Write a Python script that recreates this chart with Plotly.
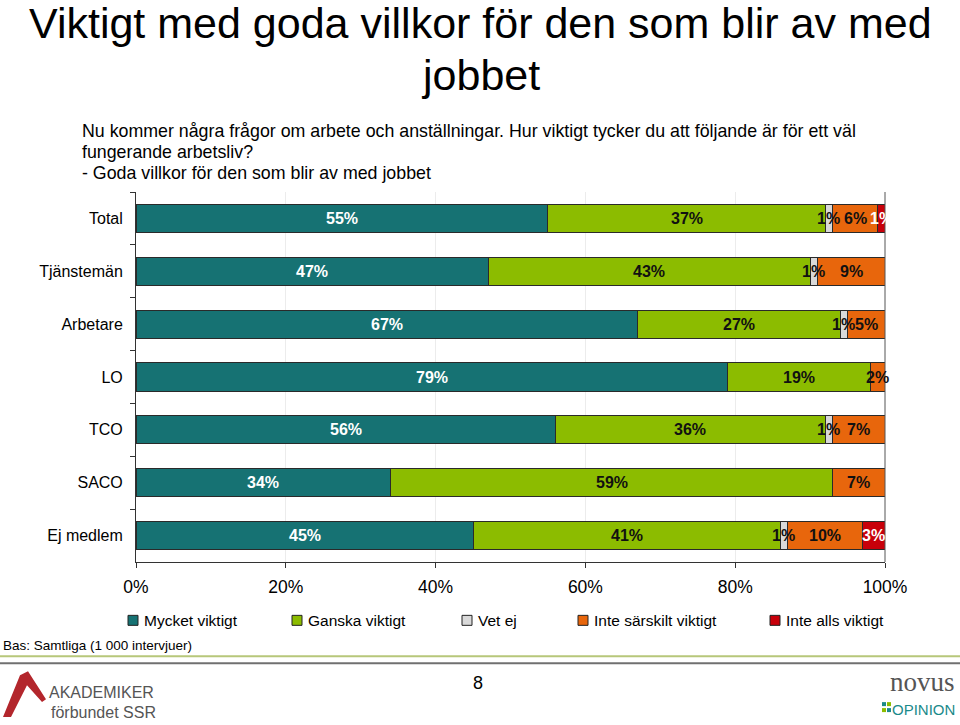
import plotly.graph_objects as go

categories = ["Total", "Tjänstemän", "Arbetare", "LO", "TCO", "SACO", "Ej medlem"]
series_names = ["Mycket viktigt", "Ganska viktigt", "Vet ej", "Inte särskilt viktigt", "Inte alls viktigt"]
mycket = [55, 47, 67, 79, 56, 34, 45]
ganska = [37, 43, 27, 19, 36, 59, 41]
vet_ej = [1, 1, 1, 0, 1, 0, 1]
inte_sarskilt = [6, 9, 5, 2, 7, 7, 10]
inte_alls = [1, 0, 0, 0, 0, 0, 3]
x_ticks = [0, 20, 40, 60, 80, 100]
x_tick_labels = ["0%", "20%", "40%", "60%", "80%", "100%"]

series_values = [mycket, ganska, vet_ej, inte_sarskilt, inte_alls]
colors = ["#167273", "#8cbc00", "#d9d9d9", "#e8660c", "#c8000a"]
text_colors = ["white", "#111111", "#111111", "#111111", "white"]

W, H = 960, 725
L, R, T, B = 136, 885, 191.5, 562.5
FONT = "Liberation Sans, Arial"


def px(x):
    return (x - L) / (R - L)


def py(y):
    return (B - y) / (B - T)


fig = go.Figure()
for name, vals, col in zip(series_names, series_values, colors):
    fig.add_trace(go.Bar(
        y=categories, x=vals, name=name, orientation="h",
        marker=dict(color=col, line=dict(color="#2a2a2a", width=1)),
        width=0.53, showlegend=False, hoverinfo="x+y+name",
    ))

annotations = []
# value labels
for i, cat in enumerate(categories):
    cum = 0
    for s, vals in enumerate(series_values):
        v = vals[i]
        if v > 0:
            annotations.append(dict(
                x=cum + v / 2, y=cat, xref="x", yref="y", text=f"<b>{v}%</b>",
                showarrow=False, font=dict(family=FONT, size=16, color=text_colors[s]),
            ))
        cum += v

# title / subtitle
annotations.append(dict(x=px(480), y=py(22), xref="paper", yref="paper",
                        text="Viktigt med goda villkor för den som blir av med",
                        showarrow=False, xanchor="center", yanchor="middle",
                        font=dict(family=FONT, size=43, color="black")))
annotations.append(dict(x=px(480), y=py(74), xref="paper", yref="paper",
                        text="jobbet",
                        showarrow=False, xanchor="center", yanchor="middle",
                        font=dict(family=FONT, size=43, color="black")))
sub_lines = ["Nu kommer några frågor om arbete och anställningar. Hur viktigt tycker du att följande är för ett väl",
             "fungerande arbetsliv?",
             "- Goda villkor för den som blir av med jobbet"]
for k, line in enumerate(sub_lines):
    annotations.append(dict(x=px(80), y=py(130 + 21 * k), xref="paper", yref="paper", text=line,
                            showarrow=False, xanchor="left", yanchor="middle",
                            font=dict(family=FONT, size=17.8, color="black")))

# manual legend
legend_x = [133, 297, 467, 583, 775]
shapes = []
legend_y = 621
for name, col, lx in zip(series_names, colors, legend_x):
    shapes.append(dict(type="rect", xref="paper", yref="paper",
                       x0=px(lx - 5), x1=px(lx + 5), y0=py(legend_y + 5), y1=py(legend_y - 5),
                       fillcolor=col, line=dict(color="#222222", width=1)))
    annotations.append(dict(x=px(lx + 9), y=py(legend_y), xref="paper", yref="paper", text=name,
                            showarrow=False, xanchor="left", yanchor="middle",
                            font=dict(family=FONT, size=15.5, color="black")))

# footer
annotations.append(dict(x=px(1), y=py(646), xref="paper", yref="paper", text="Bas: Samtliga (1 000 intervjuer)",
                        showarrow=False, xanchor="left", yanchor="middle",
                        font=dict(family=FONT, size=13.5, color="black")))
shapes.append(dict(type="line", xref="paper", yref="paper", x0=px(0), x1=px(960), y0=py(657), y1=py(657),
                   line=dict(color="#b7c77a", width=2)))
shapes.append(dict(type="line", xref="paper", yref="paper", x0=px(0), x1=px(960), y0=py(664), y1=py(664),
                   line=dict(color="#707070", width=2)))
annotations.append(dict(x=px(478), y=py(684), xref="paper", yref="paper", text="8",
                        showarrow=False, xanchor="center", yanchor="middle",
                        font=dict(family=FONT, size=18, color="black")))


def path_from(points):
    return "M " + " L ".join(f"{px(a):.5f},{py(b):.5f}" for a, b in points) + " Z"


# Akademiker logo (approximation)
shapes.append(dict(type="path", xref="paper", yref="paper",
                   path=path_from([(3, 718), (20, 676), (28, 672), (46, 700), (42, 703), (27, 686), (11, 718)]),
                   fillcolor="#b3262c", line=dict(width=0)))
annotations.append(dict(x=px(47), y=py(693), xref="paper", yref="paper", text="AKADEMIKER",
                        showarrow=False, xanchor="left", yanchor="middle",
                        font=dict(family=FONT, size=16, color="#555555")))
annotations.append(dict(x=px(49), y=py(713), xref="paper", yref="paper", text="förbundet SSR",
                        showarrow=False, xanchor="left", yanchor="middle",
                        font=dict(family=FONT, size=16, color="#555555")))
# Novus logo (approximation)
annotations.append(dict(x=px(957), y=py(683), xref="paper", yref="paper", text="novus",
                        showarrow=False, xanchor="right", yanchor="middle",
                        font=dict(family="Liberation Serif, serif", size=27, color="#555555")))
annotations.append(dict(x=px(957), y=py(710), xref="paper", yref="paper", text="OPINION",
                        showarrow=False, xanchor="right", yanchor="middle",
                        font=dict(family=FONT, size=15, color="#1b8a8a")))
for (a, b, c) in [(882, 703, "#1b8a8a"), (887, 703, "#8cbc00"), (882, 709, "#8cbc00"), (887, 709, "#1b8a8a")]:
    shapes.append(dict(type="rect", xref="paper", yref="paper", x0=px(a), x1=px(a + 4), y0=py(b + 4), y1=py(b),
                       fillcolor=c, line=dict(width=0)))

fig.update_layout(
    barmode="stack",
    width=W, height=H,
    margin=dict(l=L, r=W - R, t=T, b=H - B, pad=0, autoexpand=False),
    plot_bgcolor="white", paper_bgcolor="white",
    font=dict(family=FONT, size=16, color="black"),
    bargap=0.47,
    xaxis=dict(range=[0, 100], tickvals=x_ticks, ticktext=x_tick_labels, ticks="outside", ticklen=5,
               tickcolor="#333333", showline=True, linecolor="#333333", mirror=False,
               showgrid=True, gridcolor="#ececec", gridwidth=1, zeroline=False,
               tickfont=dict(size=17.5), ticklabelstandoff=4, fixedrange=True, automargin=False),
    yaxis=dict(autorange="reversed", ticks="outside", tickson="boundaries", ticklen=5, tickcolor="#333333",
               showline=True, linecolor="#333333", tickfont=dict(size=16), ticklabelstandoff=9,
               fixedrange=True, automargin=False),
    annotations=annotations,
    shapes=shapes,
)
# right border of plot area
fig.add_shape(type="line", xref="paper", yref="paper", x0=1, x1=1, y0=0, y1=1,
              line=dict(color="#555555", width=1))

fig.write_html("out.html", config={"displayModeBar": False},
               post_script="document.body.style.margin='0';document.body.style.padding='0';")
